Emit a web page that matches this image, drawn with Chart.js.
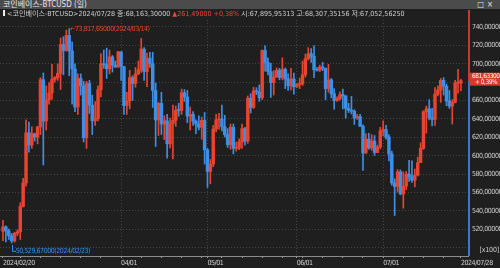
<!DOCTYPE html>
<html>
<head>
<meta charset="utf-8">
<script src="https://cdn.jsdelivr.net/npm/chart.js@4.4.1/dist/chart.umd.min.js"></script>
<style>
  html, body { margin: 0; padding: 0; background: #1e1e1e; }
  #wrap { position: relative; width: 500px; height: 268px; overflow: hidden; background: #1f1f1f;
          font-family: 'DejaVu Sans Condensed', 'Noto Sans CJK KR', sans-serif; }
  #title { position: absolute; left: 0; top: 0; width: 500px; height: 9px; background: #4b4b4b;
           color: #e8e8e8; font-size: 8px; line-height: 9px; white-space: nowrap; }
  #title .t { position: absolute; left: 3px; top: 0; }
  #title .btns { position: absolute; right: 4px; top: 0; letter-spacing: 3px; }
  #info { position: absolute; left: 0; top: 10px; height: 9px; font-size: 7px; line-height: 9px;
          color: #d0d0d0; white-space: nowrap; transform: scaleX(1.01); transform-origin: 0 0; }
  #info .bar { display: inline-block; width: 2px; height: 6px; background: #f0f0f0; margin: 0 2px 0 3px; }
  #info .up { color: #e8473a; }
  #unit { position: absolute; right: 1px; top: 246px; font-size: 7px; color: #d0d0d0; letter-spacing: -0.2px; }
  canvas { position: absolute; left: 0; top: 0; }
</style>
</head>
<body>
<div id="wrap">
  <canvas id="myChart" width="500" height="268"></canvas>
  <div id="title"><span class="t">코인베이스-BTCUSD (일)</span><span class="btns">□×</span></div>
  <div id="info"><span class="bar"></span>&lt;코인베이스-BTCUSD&gt;2024/07/28 종:68,163,30000 <span class="up">▲261,49000 +0,38%</span> 시:67,895,95313 고:68,307,35156 저:67,052,56250</div>
  <div id="unit">[x100]</div>
</div>
<script>
//Data
const dates = [
  '2024/02/20','2024/02/21','2024/02/22','2024/02/23','2024/02/24','2024/02/25','2024/02/26','2024/02/27','2024/02/28','2024/02/29',
  '2024/03/01','2024/03/02','2024/03/03','2024/03/04','2024/03/05','2024/03/06','2024/03/07','2024/03/08','2024/03/09','2024/03/10',
  '2024/03/11','2024/03/12','2024/03/13','2024/03/14','2024/03/15','2024/03/16','2024/03/17','2024/03/18','2024/03/19','2024/03/20',
  '2024/03/21','2024/03/22','2024/03/23','2024/03/24','2024/03/25','2024/03/26','2024/03/27','2024/03/28','2024/03/29','2024/03/30',
  '2024/03/31','2024/04/01','2024/04/02','2024/04/03','2024/04/04','2024/04/05','2024/04/06','2024/04/07','2024/04/08','2024/04/09',
  '2024/04/10','2024/04/11','2024/04/12','2024/04/13','2024/04/14','2024/04/15','2024/04/16','2024/04/17','2024/04/18','2024/04/19',
  '2024/04/20','2024/04/21','2024/04/22','2024/04/23','2024/04/24','2024/04/25','2024/04/26','2024/04/27','2024/04/28','2024/04/29',
  '2024/04/30','2024/05/01','2024/05/02','2024/05/03','2024/05/04','2024/05/05','2024/05/06','2024/05/07','2024/05/08','2024/05/09',
  '2024/05/10','2024/05/11','2024/05/12','2024/05/13','2024/05/14','2024/05/15','2024/05/16','2024/05/17','2024/05/18','2024/05/19',
  '2024/05/20','2024/05/21','2024/05/22','2024/05/23','2024/05/24','2024/05/25','2024/05/26','2024/05/27','2024/05/28','2024/05/29',
  '2024/05/30','2024/05/31','2024/06/01','2024/06/02','2024/06/03','2024/06/04','2024/06/05','2024/06/06','2024/06/07','2024/06/08',
  '2024/06/09','2024/06/10','2024/06/11','2024/06/12','2024/06/13','2024/06/14','2024/06/15','2024/06/16','2024/06/17','2024/06/18',
  '2024/06/19','2024/06/20','2024/06/21','2024/06/22','2024/06/23','2024/06/24','2024/06/25','2024/06/26','2024/06/27','2024/06/28',
  '2024/06/29','2024/06/30','2024/07/01','2024/07/02','2024/07/03','2024/07/04','2024/07/05','2024/07/06','2024/07/07','2024/07/08',
  '2024/07/09','2024/07/10','2024/07/11','2024/07/12','2024/07/13','2024/07/14','2024/07/15','2024/07/16','2024/07/17','2024/07/18',
  '2024/07/19','2024/07/20','2024/07/21','2024/07/22','2024/07/23','2024/07/24','2024/07/25','2024/07/26','2024/07/27','2024/07/28'
];
const open = [
  51780,52270,51850,51300,50750,51570,51730,54480,57050,62500,
  61170,62400,62030,63130,68270,63780,66070,66820,68300,68500,
  68960,72100,71460,73080,71400,69450,65300,68400,67600,61950,
  67850,65500,63800,64050,67200,69980,69900,69450,70750,69850,
  69650,71300,69700,65450,65950,68500,67850,68900,69350,71600,
  69150,70600,70000,67100,63900,65700,63450,63800,61300,63500,
  63850,64950,64920,66850,66400,64300,64500,63750,63450,63100,
  63850,60650,58300,59100,62900,63900,64000,63150,62300,61200,
  63100,60800,60850,61500,62950,61600,66250,65250,67050,66950,
  66300,71450,70150,69150,67950,68550,69300,68500,69400,68350,
  67600,68350,67500,67750,67800,68800,70550,71100,70800,69350,
  69300,69650,69500,67300,68250,66750,66000,66200,66650,66500,
  65150,64950,64850,64100,64250,63200,60300,61800,60850,61600,
  60350,60950,62700,62850,62050,60200,57050,56650,58250,55850,
  56700,58000,57700,57350,57900,59250,60800,64800,65100,64100,
  63950,66700,67150,68200,67550,65950,65400,65800,67900,67895.95
];
const high = [
  52980,52380,52030,51550,51690,51950,54900,57550,63900,63650,
  63150,62450,63200,68500,69000,67600,67950,69950,68600,69990,
  72800,72950,73650,73817.65,72400,70000,68900,68900,68100,68100,
  68200,66600,65900,67600,71100,71500,71700,71500,70900,70300,
  71350,71300,69700,66900,69300,68700,69600,70300,72750,71750,
  71150,71250,71250,67900,65800,66900,64350,64500,64100,65500,
  65400,65700,67250,67200,67100,65300,64800,63900,64350,64200,
  64700,60800,59600,63300,64500,64600,65500,64400,62950,63450,
  63450,61500,61850,63450,63100,66500,66750,67450,67400,67700,
  71500,71950,70650,70050,69250,69550,69500,70650,69550,68900,
  69500,69000,67850,68450,70300,71050,71750,71650,71950,69600,
  69850,70150,69550,69950,68400,67300,66400,66950,67250,66550,
  65700,66450,65000,64500,64500,63350,62400,62450,62300,62200,
  61150,63100,63800,63300,62300,60500,57500,58500,58450,58250,
  58300,59500,59450,58550,59850,61400,64900,65400,66100,65150,
  67400,67600,68400,68500,67800,67100,66100,68200,69400,68307.35
];
const low = [
  50760,50630,50900,50529.67,50600,51300,50900,54450,56700,60400,
  60800,61600,61300,62300,59000,62800,65600,66130,68000,68200,
  67200,68800,71360,68700,65600,64800,64500,66600,61500,60800,
  64600,62300,63300,63800,66400,69500,68400,68900,69100,69600,
  69600,68200,64500,64500,65100,66000,67450,68800,69050,68200,
  67500,69600,65250,61000,62200,62300,61750,59750,60850,59650,
  63200,64300,64500,65900,63600,62800,63300,62400,62800,61800,
  59100,56550,56950,58800,62600,62900,62700,62050,60900,60700,
  60200,60500,60650,60800,61150,61350,64650,65150,66650,65900,
  66100,69200,68800,66350,66600,68550,68250,68250,67300,67100,
  67150,66700,67400,67300,67650,68550,70400,70150,68500,69200,
  69150,69250,66100,66900,66300,65050,65900,66050,65100,64100,
  64700,64550,63400,63950,63200,58400,60250,60700,60600,60050,
  60350,60750,62150,61800,59450,56800,53500,56050,55750,54300,
  56300,57200,57100,56600,57800,59250,60700,62450,63900,63250,
  63300,66500,65800,66600,65450,65150,63450,65750,66800,67052.56
];
const close = [
  52270,51850,51300,50750,51570,51730,54480,57050,62500,61170,
  62400,62030,63130,68270,63780,66070,66820,68300,68500,68960,
  72100,71460,73080,71400,69450,65300,68400,67600,61950,67850,
  65500,63800,64050,67200,69980,69900,69450,70750,69850,69650,
  71300,69700,65450,65950,68500,67850,68900,69350,71600,69150,
  70600,70000,67100,63900,65700,63450,63800,61300,63500,63850,
  64950,64920,66850,66400,64300,64500,63750,63450,63100,63850,
  60650,58300,59100,62900,63900,64000,63150,62300,61200,63100,
  60800,60850,61500,62950,61600,66250,65250,67050,66950,66300,
  71450,70150,69150,67950,68550,69300,68500,69400,68350,67600,
  68350,67500,67750,67800,68800,70550,71100,70800,69350,69300,
  69650,69500,67300,68250,66750,66000,66200,66650,66500,65150,
  64950,64850,64100,64250,63200,60300,61800,60850,61600,60350,
  60950,62700,62850,62050,60200,57050,56650,58250,55850,56700,
  58000,57700,57350,57900,59250,60800,64800,65100,64100,63950,
  66700,67150,68200,67550,65950,65400,65800,67900,67901.81,68163.30
];
const xTickLabels = ['2024/02/20', '04/01', '05/01', '06/01', '07/01', '2024/07/28'];
const yTicks = [50000, 52000, 54000, 56000, 58000, 60000, 62000, 64000, 66000, 68000, 70000, 72000, 74000];
const lastChangePct = '+ 0,39%';

//Helpers
const UP = '#e8452f';
const DOWN = '#3f8fe6';
const FONT = "'DejaVu Sans Condensed', 'Liberation Sans', sans-serif";
const fmt = (v, d) => {
  const s = v.toFixed(d).split('.');
  return s[0].replace(/\B(?=(\d{3})+(?!\d))/g, ',') + (d ? ',' + s[1] : '');
};
const tickIdx = xTickLabels.map(l => dates.findIndex(d => d === l || d.slice(5) === l));
// small marks on the date axis (mondays)
const weekIdx = dates.map((d, i) => new Date(d.replace(/\//g, '-')).getDay() === 1 ? i : -1).filter(i => i >= 0);
const colors = close.map((c, i) => c >= open[i] ? UP : DOWN);

const maxIdx = high.indexOf(Math.max(...high));
const minIdx = low.indexOf(Math.min(...low));

const decorPlugin = {
  id: 'decor',
  beforeDraw(chart) {
    // narrow the small text a bit, like the bitmap font of the original
    chart.ctx.letterSpacing = '-0.45px';
  },
  afterDatasetsDraw(chart) {
    const { ctx, scales: { x, y }, chartArea } = chart;
    const last = close.length - 1;
    const py = y.getPixelForValue(close[last]);
    const ax = chartArea.right + 1;
    ctx.save();
    // right axis line: red above current price, blue below
    ctx.fillStyle = '#c8392b';
    ctx.fillRect(ax - 1, 10, 2, py - 10);
    ctx.fillStyle = '#3a78cf';
    ctx.fillRect(ax - 1, py, 2, chartArea.bottom - py);
    // current price box
    ctx.fillStyle = '#d63a2a';
    ctx.fillRect(ax, py - 8, 500 - ax, 13);
    ctx.fillStyle = '#ffffff';
    ctx.font = '6.5px ' + FONT;
    ctx.textAlign = 'right';
    ctx.textBaseline = 'middle';
    ctx.fillText(fmt(close[last] / 100, 5), 499.5, py - 4.5);
    ctx.textAlign = 'center';
    ctx.fillText(lastChangePct, 486, py + 1.5);
    // high / low markers
    ctx.font = '7px ' + FONT;
    ctx.textAlign = 'left';
    const hx = x.getPixelForValue(maxIdx), hy = y.getPixelForValue(high[maxIdx]);
    ctx.fillStyle = UP;
    ctx.fillText('←' + fmt(high[maxIdx], 5) + '(' + dates[maxIdx] + ')', hx + 1, hy + 1);
    const lx = x.getPixelForValue(minIdx), ly = y.getPixelForValue(low[minIdx]);
    ctx.strokeStyle = DOWN;
    ctx.lineWidth = 1;
    ctx.beginPath();
    ctx.moveTo(Math.round(lx) + 0.5, ly + 2);
    ctx.lineTo(Math.round(lx) + 0.5, ly + 8.5);
    ctx.lineTo(Math.round(lx) + 4, ly + 8.5);
    ctx.stroke();
    ctx.fillStyle = DOWN;
    ctx.fillText(fmt(low[minIdx], 5) + '(' + dates[minIdx] + ')', lx + 4, ly + 8);
    ctx.restore();
  }
};

const ctx = document.getElementById('myChart');
Chart.defaults.font.family = FONT;
Chart.defaults.font.size = 7;
Chart.defaults.color = '#cfcfcf';

const myChart = new Chart(ctx, {
  type: 'bar',
  data: {
    datasets: [{
      label: 'wick',
      data: dates.map((d, i) => ({ x: i, y: [low[i], high[i]] })),
      backgroundColor: colors,
      barThickness: 1,
      minBarLength: 1,
      grouped: false,
    }, {
      label: 'body',
      data: dates.map((d, i) => ({ x: i, y: [open[i], close[i]] })),
      backgroundColor: colors,
      barThickness: 2.8,
      minBarLength: 1,
      grouped: false,
    }]
  },
  options: {
    responsive: false,
    animation: false,
    layout: { padding: { top: 20, left: 0, right: 0, bottom: 0 }, autoPadding: false },
    scales: {
      x: {
        type: 'linear',
        offset: false,
        min: -1.04,
        max: 161.46,
        afterBuildTicks: scale => {
          const all = [...new Set([...tickIdx, ...weekIdx])].sort((a, b) => a - b);
          scale.ticks = all.map(v => ({ value: v }));
        },
        afterFit: scale => { scale.height = 12; },
        ticks: {
          autoSkip: false,
          maxRotation: 0,
          align: 'start',
          padding: 1,
          color: '#d0d0d0',
          callback: v => {
            const k = tickIdx.indexOf(v);
            return k >= 0 ? xTickLabels[k] : '';
          }
        },
        grid: {
          offset: false,
          color: c => {
            const v = c.tick ? c.tick.value : null;
            const k = tickIdx.indexOf(v);
            return (k > 0 && k < tickIdx.length - 1) ? '#454545' : 'transparent';
          },
          tickColor: '#9a9a9a',
          tickLength: 2,
        },
        border: { display: true, color: '#8c8c8c', dash: [1, 2] }
      },
      y: {
        position: 'right',
        min: 49100,
        max: 74760,
        afterBuildTicks: scale => { scale.ticks = yTicks.map(v => ({ value: v })); },
        afterFit: scale => { scale.width = 32; },
        ticks: {
          padding: 4,
          color: '#cfcfcf',
          callback: v => v === yTicks[0] ? '' : fmt(v / 100, 5)
        },
        grid: { color: '#454545', drawTicks: false },
        border: { display: false, dash: [1, 2] }
      }
    },
    plugins: {
      legend: { display: false },
      tooltip: { enabled: false }
    }
  },
  plugins: [decorPlugin]
});
</script>
</body>
</html>
